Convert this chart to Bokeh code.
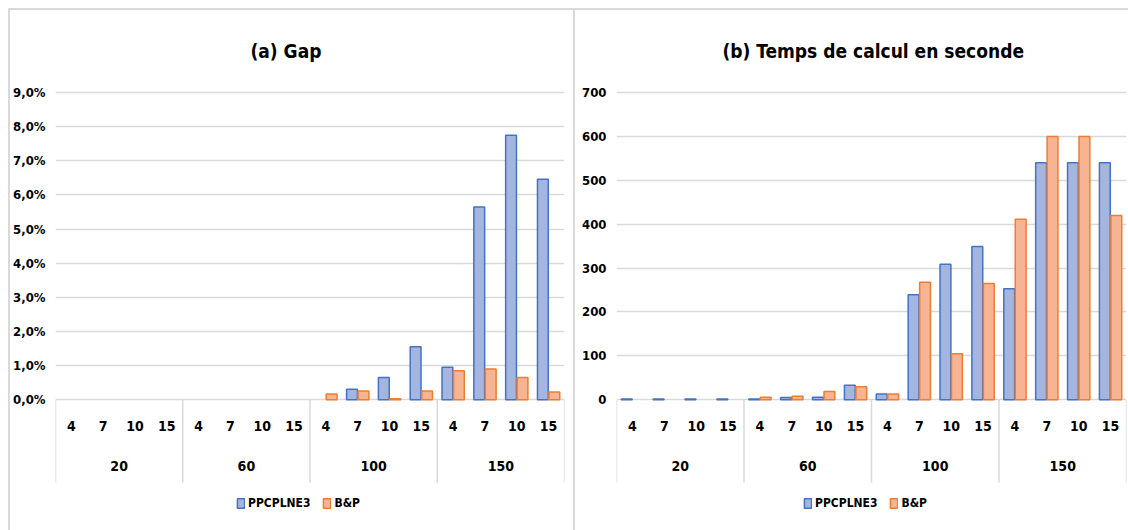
from bokeh.plotting import figure
from bokeh.models import (FactorRange, Range1d, FixedTicker, ColumnDataSource,
                          Legend, LegendItem, CDSView, BooleanFilter)
from bokeh.transform import dodge
from bokeh.layouts import row
from bokeh.core.properties import value
from bokeh.embed import file_html
from bokeh.resources import INLINE

# ---------------- data ----------------
groups = ["20", "60", "100", "150"]
subs = ["4", "7", "10", "15"]
series_names = ["PPCPLNE3", "B&P"]

gap_ppcplne3 = [0, 0, 0, 0, 0, 0, 0, 0, 0, 0.31, 0.65, 1.55, 0.95, 5.65, 7.75, 6.46]
gap_bp = [0, 0, 0, 0, 0, 0, 0, 0, 0.17, 0.26, 0.03, 0.26, 0.85, 0.90, 0.65, 0.23]

time_ppcplne3 = [2, 2, 2, 2, 2, 5, 6, 33, 13, 239, 309, 349, 253, 540, 540, 540]
time_bp = [0, 0, 0, 0, 6, 8, 19, 30, 13, 268, 105, 265, 411, 600, 600, 420]

gap_ticks = [0, 1, 2, 3, 4, 5, 6, 7, 8, 9]
gap_tick_labels = ["0,0%", "1,0%", "2,0%", "3,0%", "4,0%", "5,0%", "6,0%", "7,0%", "8,0%", "9,0%"]
time_ticks = [0, 100, 200, 300, 400, 500, 600, 700]

titles = ["(a) Gap", "(b) Temps de calcul en seconde"]

# ---------------- style ----------------
FONT = "DejaVu Sans Condensed"
BLUE_FILL, BLUE_LINE = "#A4B5E0", "#4472C4"
ORANGE_FILL, ORANGE_LINE = "#F6B493", "#ED7D31"
GRID = "#D9D9D9"

factors = [(g, s) for g in groups for s in subs]


def make_panel(title, v1, v2, ticks, tick_labels, y_lo, y_hi, sub_y, grp_y, sep_y,
               width, height, mb_left, mb_right, mb_top, mb_bottom, title_offset,
               legend_x, styles):
    p = figure(width=width, height=height, output_backend="svg", toolbar_location=None,
               x_range=FactorRange(factors=factors, factor_padding=0, group_padding=0,
                                   range_padding=0),
               y_range=Range1d(y_lo, y_hi), x_axis_location=None,
               min_border_left=mb_left, min_border_right=mb_right,
               min_border_top=mb_top, min_border_bottom=mb_bottom)
    p.styles = styles
    p.outline_line_color = None
    p.background_fill_color = "white"
    p.border_fill_color = "white"

    p.title.text = title
    p.title.align = "left"
    p.title.text_font = FONT
    p.title.text_font_style = "bold"
    p.title.text_font_size = "19px"
    p.title.text_color = "black"
    p.title.offset = title_offset
    p.title.standoff = 54

    p.xgrid.visible = False
    p.ygrid.grid_line_color = GRID
    p.ygrid.grid_line_width = 1.5
    ax = p.yaxis[0]
    ax.ticker = FixedTicker(ticks=ticks)
    if tick_labels is not None:
        ax.major_label_overrides = {t: l for t, l in zip(ticks, tick_labels)}
    ax.axis_line_color = None
    ax.major_tick_line_color = None
    ax.minor_tick_line_color = None
    ax.major_tick_out = 0
    ax.major_tick_in = 0
    ax.minor_tick_out = 0
    ax.minor_tick_in = 0
    ax.major_label_text_font = FONT
    ax.major_label_text_font_style = "bold"
    ax.major_label_text_font_size = "13px"
    ax.major_label_text_color = "black"
    ax.major_label_standoff = 10

    src = ColumnDataSource(dict(x=factors, a=v1, b=v2))
    view1 = CDSView(filter=BooleanFilter([v > 0 for v in v1]))
    view2 = CDSView(filter=BooleanFilter([v > 0 for v in v2]))
    r1 = p.vbar(x=dodge("x", -0.18, range=p.x_range), top="a", bottom=0, width=0.34,
                source=src, view=view1,
                fill_color=BLUE_FILL, line_color=BLUE_LINE, line_width=1.5)
    r2 = p.vbar(x=dodge("x", 0.18, range=p.x_range), top="b", bottom=0, width=0.34,
                source=src, view=view2,
                fill_color=ORANGE_FILL, line_color=ORANGE_LINE, line_width=1.5)

    # category separators (left edge of each group + right edge of last)
    firsts = [(g, subs[0]) for g in groups]
    sep_src = ColumnDataSource(dict(x=firsts, y0=[0] * len(firsts), y1=[sep_y] * len(firsts)))
    p.segment(x0=dodge("x", -0.5, range=p.x_range), y0="y0",
              x1=dodge("x", -0.5, range=p.x_range), y1="y1",
              source=sep_src, line_color=GRID, line_width=1.5)
    last_src = ColumnDataSource(dict(x=[(groups[-1], subs[-1])], y0=[0], y1=[sep_y]))
    p.segment(x0=dodge("x", 0.5, range=p.x_range), y0="y0",
              x1=dodge("x", 0.5, range=p.x_range), y1="y1",
              source=last_src, line_color=GRID, line_width=1.5)

    # category labels
    lab_src = ColumnDataSource(dict(x=factors, y=[sub_y] * len(factors),
                                    t=[s for (_, s) in factors]))
    p.text(x="x", y="y", text="t", source=lab_src, text_align="center",
           text_baseline="middle", text_font=value(FONT), text_font_style="bold",
           text_font_size="14px", text_color="black")
    grp_src = ColumnDataSource(dict(x=groups, y=[grp_y] * len(groups), t=groups))
    p.text(x="x", y="y", text="t", source=grp_src, text_align="center",
           text_baseline="middle", text_font=value(FONT), text_font_style="bold",
           text_font_size="14px", text_color="black")

    legend = Legend(items=[LegendItem(label=series_names[0], renderers=[r1]),
                           LegendItem(label=series_names[1], renderers=[r2])],
                    orientation="horizontal", location=(legend_x, 20),
                    padding=0, margin=0, spacing=12, label_standoff=3,
                    glyph_width=9, glyph_height=12, border_line_color=None,
                    background_fill_alpha=0,
                    label_text_font=FONT, label_text_font_style="bold",
                    label_text_font_size="12px", label_text_color="black",
                    label_height=12)
    p.add_layout(legend)
    return p


# left panel: page y 397 -> 0 ; 89 -> 9 %
lk = (397 - 89) / 9.0
left = make_panel(titles[0], gap_ppcplne3, gap_bp, gap_ticks, gap_tick_labels,
                  y_lo=(397 - 528) / lk, y_hi=(397 - 85) / lk,
                  sub_y=(397 - 423) / lk, grp_y=(397 - 463) / lk, sep_y=(397 - 480) / lk,
                  width=567, height=522, mb_left=44, mb_right=13, mb_top=77, mb_bottom=2,
                  title_offset=195, legend_x=181,
                  styles={"border-top": "2px solid #D9D9D9",
                          "border-left": "2px solid #D9D9D9",
                          "border-right": "2px solid #D9D9D9"})
left.margin = (8, 0, 0, 8)

rk = (397 - 89) / 700.0
right = make_panel(titles[1], time_ppcplne3, time_bp, time_ticks, None,
                   y_lo=(397 - 528) / rk, y_hi=(397 - 85) / rk,
                   sub_y=(397 - 423) / rk, grp_y=(397 - 463) / rk, sep_y=(397 - 480) / rk,
                   width=553, height=522, mb_left=41, mb_right=2, mb_top=77, mb_bottom=2,
                   title_offset=106, legend_x=187,
                   styles={"border-top": "2px solid #D9D9D9"})
right.margin = (8, 0, 0, 0)

layout = row(left, right)
open("out.html", "w").write(file_html(layout, INLINE))
